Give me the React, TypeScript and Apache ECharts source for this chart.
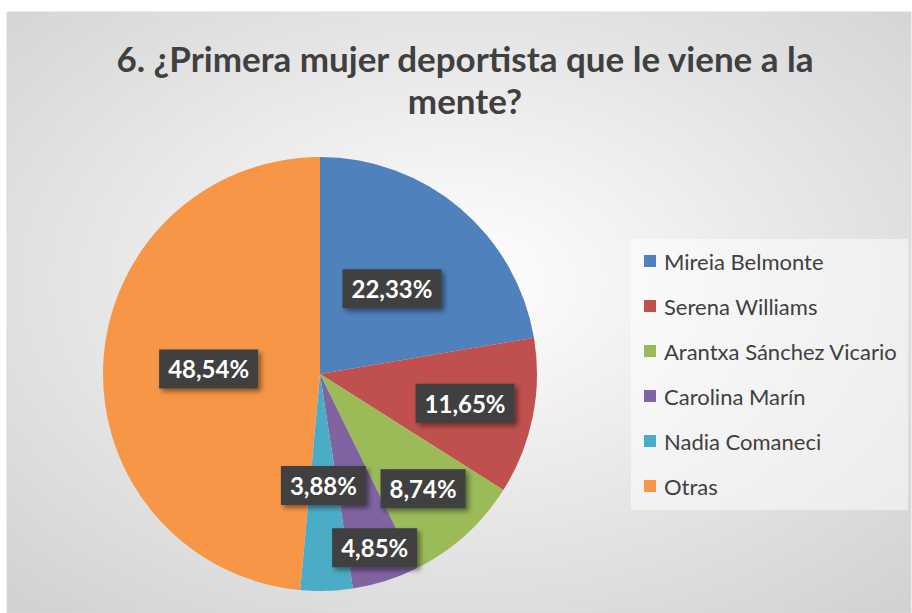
import React, { useEffect, useRef } from "react";
import * as echarts from "echarts";

const titleText = "6. ¿Primera mujer deportista que le viene a la\nmente?";
const categories = [
  "Mireia Belmonte",
  "Serena Williams",
  "Arantxa Sánchez Vicario",
  "Carolina Marín",
  "Nadia Comaneci",
  "Otras",
];
const values = [22.33, 11.65, 8.74, 4.85, 3.88, 48.54];
const colors = ["#4f81bd", "#c0504d", "#9bbb59", "#8064a2", "#4bacc6", "#f79646"];
// radial position of each label, as a fraction of the pie radius
const labelRadius = [0.5, 0.668, 0.697, 0.826, 0.5, 0.5];

const CX = 320;
const CY = 374;
const R = 217;

export default function App() {
  const ref = useRef<HTMLDivElement>(null);
  useEffect(() => {
    if (!ref.current) return;
    const chart = echarts.init(ref.current, undefined, { renderer: "svg" });
    const total = values.reduce((a, b) => a + b, 0);
    const mids: number[] = [];
    let acc = 0;
    values.forEach((v) => {
      mids.push(((acc + v / 2) / total) * Math.PI * 2);
      acc += v;
    });
    chart.setOption({
      animation: false,
      backgroundColor: "#ffffff",
      graphic: [
        {
          type: "rect",
          z: -10,
          shape: { x: 7, y: 12, width: 904, height: 601 },
          style: {
            fill: {
              type: "radial",
              x: 0.5,
              y: 0.45,
              r: 0.95,
              colorStops: [
                { offset: 0, color: "#ffffff" },
                { offset: 1, color: "#c4c4c4" },
              ],
            },
            stroke: "#d9d9d9",
            lineWidth: 1,
          },
        },
        {
          type: "rect",
          z: -5,
          shape: { x: 631, y: 239, width: 277, height: 271 },
          style: { fill: "rgba(255,255,255,0.5)" },
        },
      ],
      title: {
        text: titleText,
        left: 465,
        top: 37,
        padding: 0,
        textAlign: "center",
        textStyle: {
          fontFamily: "Lato",
          fontWeight: "bold",
          fontSize: 35,
          lineHeight: 42,
          color: "#404040",
        },
      },
      legend: {
        orient: "vertical",
        left: 644,
        top: 250,
        padding: 0,
        itemWidth: 12,
        itemHeight: 12,
        itemGap: 23,
        icon: "rect",
        data: categories,
        textStyle: {
          fontFamily: "Lato",
          fontSize: 22,
          lineHeight: 20,
          color: "#404040",
          padding: [0, 0, 0, 3],
        },
      },
      series: [
        {
          type: "pie",
          center: [CX, CY],
          radius: [0, R],
          startAngle: 90,
          clockwise: true,
          avoidLabelOverlap: false,
          data: categories.map((name, i) => ({
            name,
            value: values[i],
            itemStyle: { color: colors[i] },
          })),
          label: {
            show: true,
            position: "inside",
            formatter: (p: any) => p.value.toFixed(2).replace(".", ",") + "%",
            fontFamily: "Lato",
            fontWeight: "bold",
            fontSize: 24,
            color: "#ffffff",
            backgroundColor: "#3f3f3f",
            padding: [8, 9, 7, 9],
            shadowColor: "rgba(0,0,0,0.45)",
            shadowBlur: 5,
            shadowOffsetX: 3,
            shadowOffsetY: 3,
          },
          labelLine: { show: false },
          labelLayout: (params: any) => {
            const i = params.dataIndex;
            const f = labelRadius[i] - 0.5;
            return {
              dx: f * R * Math.sin(mids[i]),
              dy: -f * R * Math.cos(mids[i]),
            };
          },
          emphasis: { disabled: true },
        },
      ],
    });
    return () => chart.dispose();
  }, []);
  return (
    <div
      ref={ref}
      style={{ position: "fixed", left: 0, top: 0, width: 912, height: 613 }}
    />
  );
}
